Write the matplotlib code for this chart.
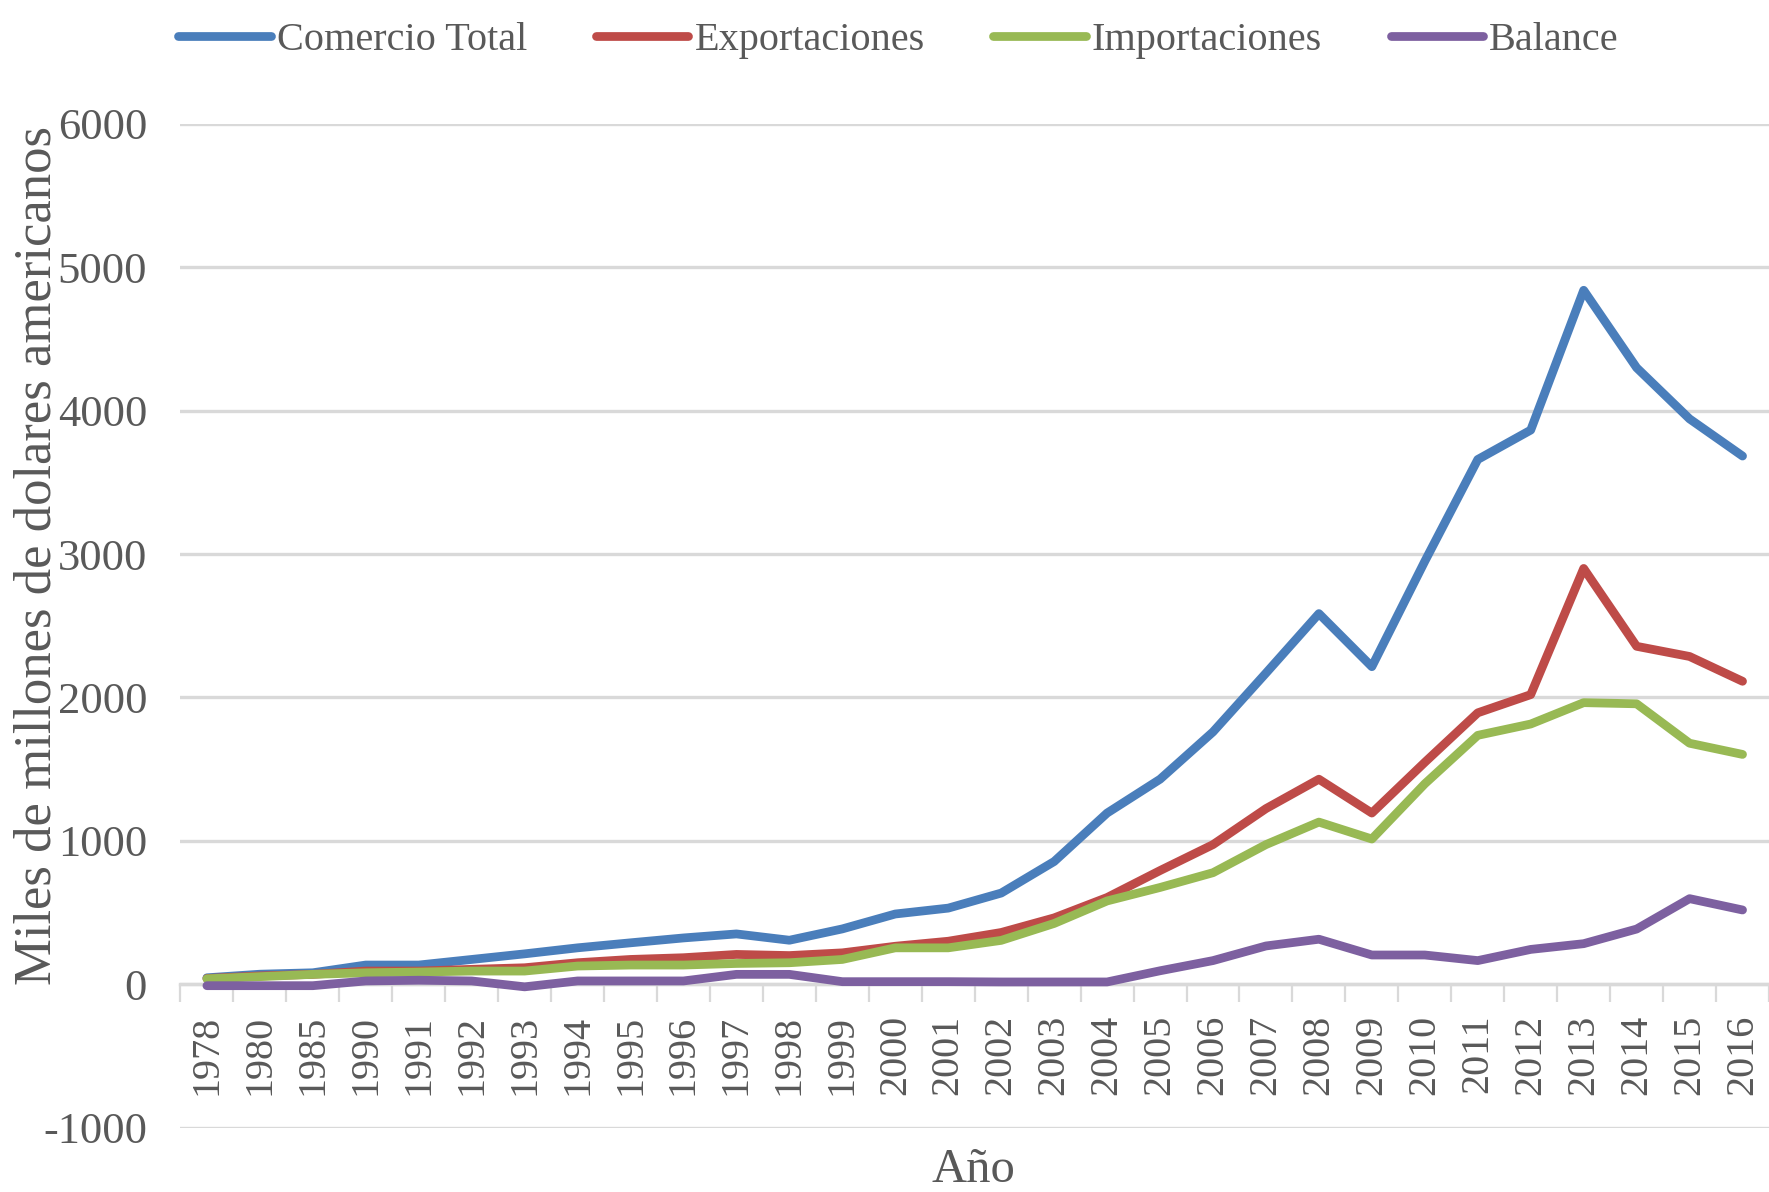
import numpy as np
import matplotlib
matplotlib.use("Agg")
import matplotlib.pyplot as plt
import matplotlib.ticker as mticker

# --- data ---
years = ['1978', '1980', '1985', '1990', '1991', '1992', '1993', '1994', '1995',
         '1996', '1997', '1998', '1999', '2000', '2001', '2002', '2003', '2004',
         '2005', '2006', '2007', '2008', '2009', '2010', '2011', '2012', '2013',
         '2014', '2015', '2016']

comercio_total = [45, 70, 80, 134, 134, 173, 212, 254, 289, 323, 351, 307, 386,
                  490, 531, 636, 856, 1194, 1430, 1760, 2170, 2585, 2215, 2950,
                  3660, 3865, 4840, 4300, 3943, 3684]
exportaciones = [40, 58, 69, 92, 92, 104, 115, 150, 173, 185, 208, 200, 219,
                 265, 300, 361, 463, 605, 793, 974, 1225, 1430, 1194, 1548,
                 1893, 2020, 2900, 2357, 2286, 2113]
importaciones = [38, 53, 69, 80, 85, 92, 92, 127, 134, 134, 145, 150, 173,
                 254, 254, 306, 424, 581, 675, 778, 974, 1131, 1013, 1398,
                 1736, 1815, 1964, 1956, 1681, 1603]
balance = [-10, -10, -10, 23, 28, 23, -18, 23, 23, 23, 69, 69, 18, 18, 18,
           16, 16, 16, 94, 165, 267, 314, 204, 204, 165, 243, 283, 385, 597, 518]

series = [('Comercio Total', comercio_total, '#4a7ebb'),
          ('Exportaciones', exportaciones, '#be4b48'),
          ('Importaciones', importaciones, '#98b954'),
          ('Balance', balance, '#7d60a0')]

plt.rcParams['font.family'] = ['Liberation Serif', 'DejaVu Serif']
plt.rcParams['axes.unicode_minus'] = False

fig = plt.figure(figsize=(17.69, 11.92), dpi=100)
ax = fig.add_axes([0.102, 0.054, 0.898, 0.842])

x = np.arange(len(years))
for name, vals, col in series:
    ax.plot(x, vals, color=col, linewidth=6.3, label=name,
            solid_joinstyle='round', solid_capstyle='round', zorder=3)

# --- axes styling (Excel-like) ---
ax.set_xlim(-0.5, len(years) - 0.5)
ax.set_ylim(-1000, 6000)
ax.yaxis.set_major_locator(mticker.MultipleLocator(1000))
ax.grid(axis='y', color='#d9d9d9', linewidth=2.4, zorder=0)
ax.set_axisbelow(True)

for s in ['top', 'right', 'left']:
    ax.spines[s].set_visible(False)
ax.spines['bottom'].set_position(('data', 0))
ax.spines['bottom'].set_color('#d9d9d9')
ax.spines['bottom'].set_linewidth(2.4)

ax.set_xticks(x)
ax.set_xticklabels(years, rotation=90, fontsize=29, color='#595959')
ax.tick_params(axis='x', which='major', length=0, pad=22)
ax.set_xticks(np.arange(-0.5, len(years), 1), minor=True)
ax.tick_params(axis='x', which='minor', length=13, width=1.6, color='#d9d9d9')

ax.tick_params(axis='y', length=0, labelsize=32, labelcolor='#595959', pad=24)

fig.text(0.021, 0.534, 'Miles de millones de dolares americanos', fontsize=38,
         color='#595959', rotation=90, ha='center', va='center')
fig.text(0.55, 0.0, 'Año', fontsize=35, color='#595959', ha='center', va='bottom')

fig.legend(loc='upper center', bbox_to_anchor=(0.508, 1.012), ncol=4,
           frameon=False, fontsize=29, handlelength=2.3, handletextpad=0.15,
           columnspacing=1.7, labelcolor='#595959')

fig.savefig('out.png', dpi=100)
plt.close(fig)
